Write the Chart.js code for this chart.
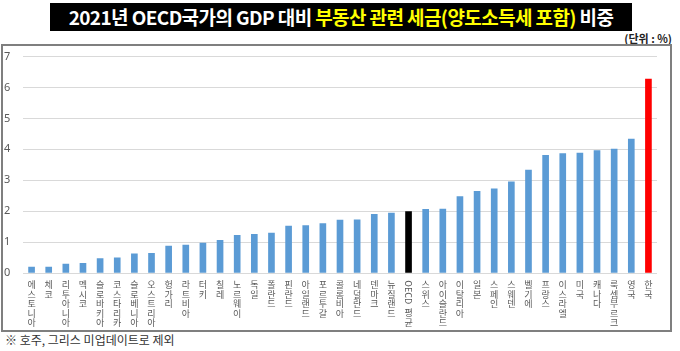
<!DOCTYPE html>
<html>
<head>
<meta charset="utf-8">
<script src="https://cdn.jsdelivr.net/npm/chart.js@4"></script>
<style>
  body { margin: 0; width: 680px; height: 351px; background: #fff; position: relative; overflow: hidden;
         font-family: "Noto Sans CJK KR", "Noto Sans", sans-serif; }
  #title { position: absolute; top: 3px; left: 50px; width: 582px; height: 28px; background: #000; color: #fff;
           font-weight: bold; font-size: 19px; line-height: 28px; text-align: center; letter-spacing: -0.6px; }
  #title span { color: #ffff00; }
  #unit { position: absolute; top: 30px; right: 8px; font-size: 11px; font-weight: bold; color: #222; }
  #box { position: absolute; left: 1px; top: 44px; width: 671px; height: 288px; border: 2px solid #7f7f7f; box-sizing: border-box; }
  #wrap { position: absolute; left: 1px; top: 0px; width: 667px; height: 284px; }
  #note { position: absolute; left: 5px; top: 331px; font-size: 12px; color: #333; }
</style>
</head>
<body>
<div id="title">2021년 OECD국가의 GDP 대비 <span>부동산 관련 세금(양도소득세 포함)</span> 비중</div>
<div id="unit">(단위 : %)</div>
<div id="box"><div id="wrap"><canvas id="chart"></canvas></div></div>
<div id="note">※ 호주, 그리스 미업데이트로 제외</div>
<script>
    // --- DATOS ---
    const countries = ['에스토니아', '체코', '리투아니아', '멕시코', '슬로바키아', '코스타리카', '슬로베니아', '오스트리아',
        '헝가리', '라트비아', '터키', '칠레', '노르웨이', '독일', '폴란드', '핀란드', '아일랜드', '포르투갈', '콜롬비아',
        '네덜란드', '덴마크', '뉴질랜드', 'OECD 평균', '스위스', '아이슬란드', '이탈리아', '일본', '스페인', '스웨덴',
        '벨기에', '프랑스', '이스라엘', '미국', '캐나다', '룩셈부르크', '영국', '한국'];
    const taxShare = [0.19, 0.19, 0.29, 0.31, 0.47, 0.49, 0.62, 0.64, 0.87, 0.90, 0.97, 1.06, 1.22, 1.25, 1.29, 1.52,
        1.53, 1.60, 1.71, 1.72, 1.90, 1.94, 1.99, 2.06, 2.07, 2.47, 2.64, 2.72, 2.95, 3.33, 3.81, 3.86, 3.88, 3.96,
        4.01, 4.33, 6.27];
    const yTicks = [0, 1, 2, 3, 4, 5, 6, 7];

    const barColor = c => c === '한국' ? '#ff0000' : (c === 'OECD 평균' ? '#000000' : '#5b9bd5');

    // etiquetas verticales, una letra por línea
    const verticalLabels = {
        id: 'verticalLabels',
        afterDraw(chart) {
            const { ctx, chartArea, scales: { x } } = chart;
            ctx.save();
            ctx.fillStyle = '#595959';
            ctx.font = '9px "Noto Sans CJK KR"';
            ctx.textAlign = 'center';
            ctx.textBaseline = 'middle';
            const step = 9.5;
            countries.forEach((name, i) => {
                const px = x.getPixelForValue(i);
                let y = chartArea.bottom + 12;
                const parts = name.match(/[A-Za-z]+| |./g);
                parts.forEach(p => {
                    if (p === ' ') { y += 2; return; }
                    if (/^[A-Za-z]+$/.test(p)) {
                        const w = ctx.measureText(p).width;
                        ctx.save();
                        ctx.translate(px, y - step / 2 + w / 2);
                        ctx.rotate(Math.PI / 2);
                        ctx.fillText(p, 0, 0);
                        ctx.restore();
                        y += w + 2;
                        return;
                    }
                    ctx.fillText(p, px, y);
                    y += step;
                });
            });
            ctx.restore();
        }
    };

    new Chart(document.getElementById('chart'), {
        type: 'bar',
        data: {
            labels: countries,
            datasets: [{
                data: taxShare,
                backgroundColor: countries.map(barColor),
                barThickness: 6
            }]
        },
        options: {
            responsive: true,
            maintainAspectRatio: false,
            animation: false,
            layout: { padding: { left: 0, right: 14, top: 9, bottom: 57 } },
            plugins: { legend: { display: false }, tooltip: { enabled: false } },
            scales: {
                x: { display: false },
                y: {
                    min: 0, max: 7,
                    afterFit: s => { s.width = 19; },
                    afterBuildTicks: s => { s.ticks = yTicks.map(v => ({ value: v })); },
                    grid: { color: '#d9d9d9', drawTicks: false },
                    border: { display: false },
                    ticks: { color: '#595959', font: { size: 11, family: 'Noto Sans' }, crossAlign: 'far', padding: 4 }
                }
            }
        },
        plugins: [verticalLabels]
    });
</script>
</body>
</html>
